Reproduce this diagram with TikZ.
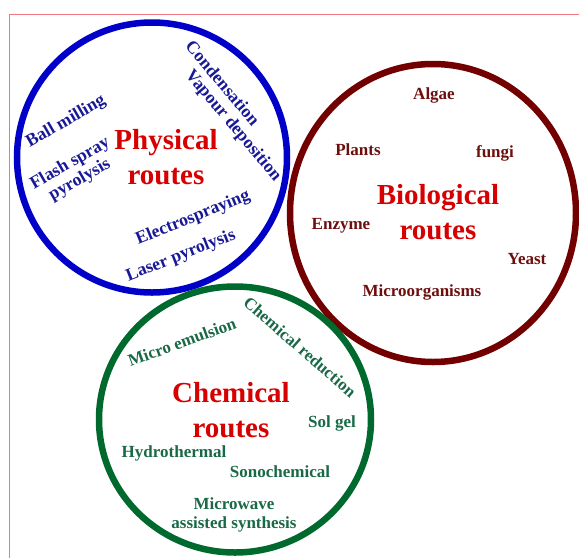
\documentclass[tikz,border=0pt]{standalone}
\usepackage{fontspec}
\setmainfont{Liberation Serif}
\definecolor{framec}{RGB}{240,120,130}
\definecolor{physc}{RGB}{0,0,200}
\definecolor{physt}{RGB}{25,25,150}
\definecolor{bioc}{RGB}{115,0,0}
\definecolor{biot}{RGB}{110,15,15}
\definecolor{chemc}{RGB}{0,105,45}
\definecolor{chemt}{RGB}{25,105,70}
\definecolor{titlec}{RGB}{215,0,0}
\begin{document}
\begin{tikzpicture}[x=1pt,y=-1pt,
  ring/.style={line width=6.5pt},
  title/.style={text=titlec, font=\fontsize{29}{35}\selectfont\bfseries, align=center, inner sep=0pt},
  ptext/.style={text=physt, font=\fontsize{17.8}{19}\selectfont\bfseries, align=center, inner sep=0pt},
  btext/.style={text=biot, font=\fontsize{17}{19}\selectfont\bfseries, align=center, inner sep=0pt},
  ctext/.style={text=chemt, font=\fontsize{17}{19.5}\selectfont\bfseries, align=center, inner sep=0pt}]
\useasboundingbox (0,0) rectangle (579,558);
\draw[framec, line width=1pt] (9,558) -- (9,14) -- (579,14);
% circles
\draw[ring, physc] (152,157.5) circle[radius=135];
\draw[ring, bioc] (433,213) ellipse[x radius=143, y radius=149];
\draw[ring, chemc] (235,419.5) ellipse[x radius=136, y radius=133];
% physical
\node[title] (phys) at (166,157) {Physical\\routes};
\node[ptext, rotate=30] (ball) at (66,122) {Ball milling};
\node[ptext, rotate=30] (flash) at (75,172) {Flash spray\\pyrolysis};
\node[ptext, rotate=-50] (cond) at (223,83) {Condensation};
\node[ptext, rotate=-50] (vap) at (233,126) {Vapour deposition};
\node[ptext, rotate=22] (elec) at (193,218) {Electrospraying};
\node[ptext, rotate=21.5] (laser) at (181,256) {Laser pyrolysis};
% biological
\node[title] (bio) at (438,212) {Biological\\routes};
\node[btext] (algae) at (434,95) {Algae};
\node[btext] (plants) at (358,150) {Plants};
\node[btext] (fungi) at (495,153) {fungi};
\node[btext] (enz) at (341,226) {Enzyme};
\node[btext] (yeast) at (527,259) {Yeast};
\node[btext] (micro) at (422,292) {Microorganisms};
% chemical
\node[title] (chem) at (231,410) {Chemical\\routes};
\node[ctext, rotate=20] (emul) at (182,342) {Micro emulsion};
\node[ctext, rotate=-41] (red) at (300,347) {Chemical reduction};
\node[ctext] (sol) at (332,423) {Sol gel};
\node[ctext] (hydro) at (174,453) {Hydrothermal};
\node[ctext] (sono) at (280,472) {Sonochemical};
\node[ctext] (mw) at (234,515) {Microwave\\assisted synthesis};
\end{tikzpicture}
\end{document}
